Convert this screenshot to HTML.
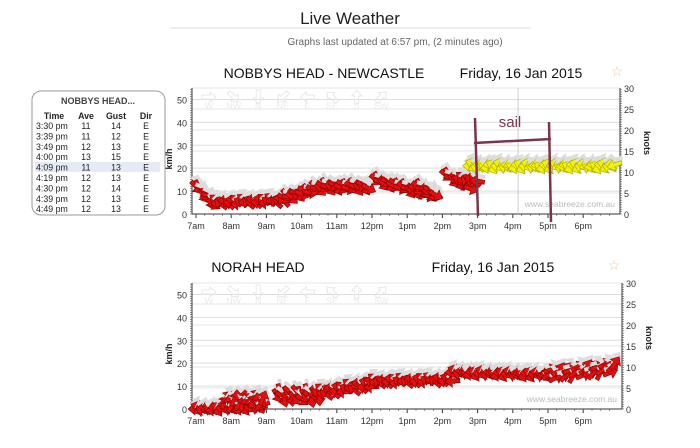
<!DOCTYPE html><html><head><style>
body{margin:0;background:#fff;width:700px;height:443px;overflow:hidden;font-family:"Liberation Sans",sans-serif}
</style></head><body>
<svg id="s" width="700" height="443" xmlns="http://www.w3.org/2000/svg" font-family="Liberation Sans, sans-serif">
<line x1="170" y1="28" x2="530" y2="28" stroke="#ddd"/>
<text x="350" y="24" font-size="17" text-anchor="middle" fill="#222">Live Weather</text>
<text x="395" y="45" font-size="10" text-anchor="middle" fill="#666">Graphs last updated at 6:57 pm, (2 minutes ago)</text>
<text x="324" y="78" font-size="14" text-anchor="middle" fill="#111">NOBBYS HEAD - NEWCASTLE</text>
<text x="521" y="78" font-size="14" text-anchor="middle" fill="#111">Friday, 16 Jan 2015</text>
<text x="617" y="76" font-size="14" text-anchor="middle" fill="#e8c9a0">☆</text>
<text x="258" y="272" font-size="14" text-anchor="middle" fill="#111">NORAH HEAD</text>
<text x="493" y="272" font-size="14" text-anchor="middle" fill="#111">Friday, 16 Jan 2015</text>
<text x="614" y="270" font-size="14" text-anchor="middle" fill="#e8c9a0">☆</text>
<rect x="32" y="91" width="133" height="124" rx="9" fill="#fff" stroke="#999"/>
<g id="tbl" font-size="8.8" fill="#222"></g>
<g id="c"></g>
</svg>
<script>
const NS="http://www.w3.org/2000/svg",c=document.getElementById('c');
function el(t,a,p){const e=document.createElementNS(NS,t);for(const k in a)e.setAttribute(k,a[k]);(p||c).appendChild(e);return e}
function txt(x,y,s,a,p){const e=el('text',Object.assign({x,y},a),p);e.textContent=s;return e}
const T=document.getElementById('tbl');
txt(98,104,'NOBBYS HEAD...',{'text-anchor':'middle','font-weight':'bold','font-size':'9','fill':'#444'},T);
[['Time',54],['Ave',86],['Gust',116],['Dir',146]].forEach(([s,x])=>txt(x,119,s,{'text-anchor':'middle','font-weight':'bold'},T));
el('rect',{x:35,y:162,width:125,height:10,fill:'#e4ebf5'},T);
const rows=[['3:30 pm',11,14],['3:39 pm',11,12],['3:49 pm',12,13],['4:00 pm',13,15],['4:09 pm',11,13],['4:19 pm',12,13],['4:30 pm',12,14],['4:39 pm',12,13],['4:49 pm',12,13]];
rows.forEach((r,i)=>{const y=129+i*10.4;txt(36,y,r[0],{},T);txt(86,y,r[1],{'text-anchor':'middle'},T);txt(116,y,r[2],{'text-anchor':'middle'},T);txt(146,y,'E',{'text-anchor':'middle'},T)});
function chart(top,zero,left,right,data,sail){
 const k=(zero-top)/55, kn=(zero-top)/30, hx=35.2, x7=left+4;
 for(let v=10;v<=50;v+=10){const y=zero-v*k;el('line',{x1:left,x2:right,y1:y,y2:y,stroke:'#ddd'});txt(left-5,y+4,v,{'text-anchor':'end','font-size':'9','fill':'#333'})}
 txt(left-5,zero+4,0,{'text-anchor':'end','font-size':'9','fill':'#333'});
 el('line',{x1:left,x2:right,y1:top,y2:top,stroke:'#ddd'});
 for(let v=5;v<=30;v+=5){const y=zero-v*kn;el('line',{x1:left,x2:right,y1:y,y2:y,stroke:'#e4e4e4'})}
 for(let v=0;v<=30;v+=5){const y=zero-v*kn;txt(right+4,y+4,v,{'font-size':'9','fill':'#333'})}
 el('line',{x1:left,x2:left,y1:top,y2:zero,stroke:'#333'});el('line',{x1:right,x2:right,y1:top,y2:zero,stroke:'#333'});
 el('line',{x1:left,x2:right,y1:zero,y2:zero,stroke:'#333'});
 for(let y=zero;y>=top;y-=2.3){el('line',{x1:left-2,x2:left,y1:y,y2:y,stroke:'#555','stroke-width':.6});el('line',{x1:right,x2:right+2,y1:y,y2:y,stroke:'#555','stroke-width':.6})}
 const labs=['7am','8am','9am','10am','11am','12pm','1pm','2pm','3pm','4pm','5pm','6pm'];
 labs.forEach((l,i)=>{const x=x7+i*hx;el('line',{x1:x,x2:x,y1:zero,y2:zero+4,stroke:'#333'});txt(x,zero+15,l,{'text-anchor':'middle','font-size':'9','fill':'#333'})});
 for(let i=0;i<48;i++){const x=x7+i*hx/4;el('line',{x1:x,x2:x,y1:zero,y2:zero+2,stroke:'#555','stroke-width':.6})}
 const ky=(top+zero)/2;
 txt(0,0,'km/h',{transform:`translate(${left-20},${ky+8}) rotate(-90)`,'text-anchor':'middle','font-size':'9','font-weight':'bold','fill':'#222'});
 txt(0,0,'knots',{transform:`translate(${right+24},${ky-8}) rotate(90)`,'text-anchor':'middle','font-size':'9','font-weight':'bold','fill':'#222'});
 txt(right-5,zero-7,'www.seabreeze.com.au',{'text-anchor':'end','font-size':'8.5','fill':'#bbb'});
 const dirs=['W','NW','N','NE','E','SE','S','SW'],ang=[0,45,90,135,180,225,270,315];
 dirs.forEach((d,i)=>{const x=left+17+i*24.6;txt(x,top+21,d,{'text-anchor':'middle','font-size':'9','fill':'#eaeaea'});
  el('path',{d:'M-7,-2 L1,-2 L1,-5 L7,0 L1,5 L1,2 L-7,2Z',fill:'none',stroke:'#e8e8e8',transform:`translate(${x},${top+9}) rotate(${ang[i]})`})});
 if(sail)el('line',{x1:x7+9.15*hx,x2:x7+9.15*hx,y1:top,y2:zero,stroke:'#bbb','stroke-width':.7});
 const AR='M-7,-2 L1,-2 L1,-6 L8,0 L1,6 L1,2 L-7,2Z';
 data.forEach(seg=>{const [h0,h1,v0,v1,a,col,jit]=seg;const n=Math.round((h1-h0)*14);
  for(let i=0;i<=n;i++){const t=i/n,h=h0+(h1-h0)*t,v=v0+(v1-v0)*t+Math.sin(i*1.7)*(jit||1);const x=x7+(h-7)*hx,y=zero-v*k;
   const aa=a+Math.sin(i*2.3)*25;
   el('path',{d:AR,fill:'#ddd',transform:`translate(${x+1},${y-5}) rotate(${aa})`});
   el('path',{d:AR,fill:col,stroke:col=='#f2f200'?'#a8a800':'#8a0000','stroke-width':.6,transform:`translate(${x},${y}) rotate(${aa})`});}});
}
const R='#e01010',Y='#f2f200';
chart(88,214,192,620,[[7,7.5,12,5,45,R],[7.5,9.5,5,6,200,R],[9.5,10.6,7,12,30,R],[10.6,11.9,12,12,40,R],[12.1,13.8,15,8,40,R],[13.3,13.8,12,9,40,R],[14.1,14.8,17,12,40,R],[14.5,15,15,15,200,R],[14.8,18.9,21,21,180,Y]],true);
chart(283,409,192,622,[[7,8.9,0,1,180,R,1],[7.8,8.9,3,4,-70,R,2],[9.3,10.5,6,6,60,R,2],[10.5,12,7,11,200,R,1.5],[12,14.3,12,13,200,R],[14.3,17,16,15,180,R],[17,18.9,15,18,-40,R,2]],false);
const P='#7b3548';
el('path',{d:'M475,118 L478,216 M549,122 L551,222 M474,143 L551,139',stroke:P,'stroke-width':2.5,fill:'none'});
txt(510,127,'sail',{'text-anchor':'middle','font-size':'15','fill':P});
</script>
</body></html>
